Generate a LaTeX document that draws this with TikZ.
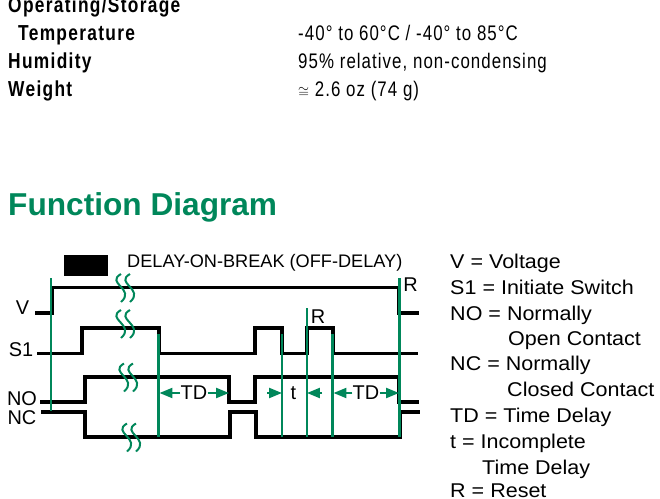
\documentclass[tikz,border=0pt]{standalone}
\usepackage{fontspec}
\usepackage{xcolor}
\usepackage{amssymb}
\usetikzlibrary{arrows.meta}
\setmainfont{Liberation Sans}
\newfontfamily\headfont[FakeStretch=0.8,LetterSpace=6]{Liberation Sans}
\newfontfamily\valfont[FakeStretch=0.8,LetterSpace=5]{Liberation Sans}
\newfontfamily\legendfont[FakeStretch=1.08]{Liberation Sans}
\definecolor{relaygreen}{RGB}{0,135,90}
\newcommand{\wavybreak}[2]{%
\foreach \dx in {0,9} {
\draw[break line] (#1+\dx,#2) .. controls (#1+\dx-16,#2+9) and (#1+\dx+15,#2+15) .. (#1+\dx,#2+28);
}}

\begin{document}
\begin{tikzpicture}[x=0.03cm,y=-0.03cm,
wave/.style = {line width=3.3pt,line join=miter,line cap=butt},
mark line/.style = {relaygreen,line width=1.8pt},
break line/.style = {relaygreen,line width=1.7pt},
gap arrow/.style = {relaygreen,line width=1.8pt,-{Triangle[length=11pt,width=8.5pt]}},
spec head/.style = {anchor=base west,inner sep=0,font=\headfont\bfseries\fontsize{18.5}{18.5}\selectfont},
spec val/.style = {anchor=base west,inner sep=0,font=\valfont\fontsize{18}{18}\selectfont},
legend/.style = {anchor=base west,inner sep=0,font=\legendfont\fontsize{17}{17}\selectfont},
label/.style = {inner sep=0,font=\fontsize{17}{17}\selectfont}]
\useasboundingbox (0,0) rectangle (660,499);

\node[spec head] at (8,12.7) (oper) {Operating/Storage};
\node[spec head] at (18,40.7) (temp) {Temperature};
\node[spec head] at (8,68.3) (humid) {Humidity};
\node[spec head] at (8,96.7) (weight) {Weight};
\node[spec val] at (298,40.7) (tempv) {-40° to 60°C / -40° to 85°C};
\node[spec val] at (298,68.3) (humidv) {95\% relative, non-condensing};
\node[spec val] at (298,96.7) (weightv) {{\fontsize{12}{12}\selectfont$\cong$} 2.6 oz (74 g)};

\node[anchor=base west,inner sep=0,relaygreen,font=\bfseries\fontsize{27}{27}\selectfont] at (8,215) (title) {Function Diagram};

\fill (64,255) rectangle (108,276);
\node[anchor=west,inner sep=0,font=\fontsize{15.5}{15.5}\selectfont] at (127,263) (mode) {DELAY-ON-BREAK (OFF-DELAY)};

% waveforms
\draw[wave] (35,313)--(52,313)--(52,287.5)--(399,287.5)--(399,313)--(419,313);
\draw[wave] (37,353.5)--(82,353.5)--(82,328)--(159,328)--(159,353.5)--(255,353.5)--(255,328)--(282,328)--(282,353.5)--(307,353.5)--(307,328)--(333,328)--(333,353.5)--(418,353.5);
\draw[wave] (40,402)--(85,402)--(85,377)--(229,377)--(229,402)--(255,402)--(255,377)--(399,377)--(399,402)--(419,402);
\draw[wave] (41,412)--(85,412)--(85,437)--(230,437)--(230,412)--(256,412)--(256,437)--(400,437)--(400,412)--(420,412);

% markers
\draw[mark line] (51,278)--(51,411);
\draw[mark line] (158.5,334)--(158.5,437);
\draw[mark line] (282,334)--(282,437);
\draw[mark line] (307,308)--(307,437);
\draw[mark line] (332.5,334)--(332.5,437);
\draw[mark line] (399.5,278)--(399.5,437);

\wavybreak{121}{274}
\wavybreak{121}{310}
\wavybreak{124}{363.5}
\wavybreak{127}{423.5}

\node[label] at (22.5,308) (v) {V};
\node[label] at (21,350) (s1) {S1};
\node[label] at (22,398.5) (no) {NO};
\node[label] at (22,418) (nc) {NC};
\node[label] at (410.5,285) (r1) {R};
\node[label] at (318,316.5) (r2) {R};
\node[label] at (194,393) (td1) {TD};
\node[label] at (293.5,393) (t) {t};
\node[label] at (366,393) (td2) {TD};

\coordinate (td1l) at (159.5,393);
\coordinate (td1r) at (229,393);
\coordinate (tl) at (282,393);
\coordinate (tr) at (307,393);
\coordinate (tls) at (267,393);
\coordinate (trs) at (322,393);
\coordinate (td2l) at (333.5,393);
\coordinate (td2r) at (399,393);

\draw[gap arrow] (td1)--(td1l);
\draw[gap arrow] (td1)--(td1r);
\draw[gap arrow] (tls)--(tl);
\draw[gap arrow] (trs)--(tr);
\draw[gap arrow] (td2)--(td2l);
\draw[gap arrow] (td2)--(td2r);

\node[legend] at (450,268.3) (l1) {V = Voltage};
\node[legend] at (450,294.5) (l2) {S1 = Initiate Switch};
\node[legend] at (450,320) (l3) {NO = Normally};
\node[legend] at (508,345.7) (l4) {Open Contact};
\node[legend] at (450,370.5) (l5) {NC = Normally};
\node[legend] at (507,396) (l6) {Closed Contact};
\node[legend] at (450,422.5) (l7) {TD = Time Delay};
\node[legend] at (450,448) (l8) {t = Incomplete};
\node[legend] at (482,474) (l9) {Time Delay};
\node[legend] at (450,497.5) (l10) {R = Reset};
\end{tikzpicture}
\end{document}
